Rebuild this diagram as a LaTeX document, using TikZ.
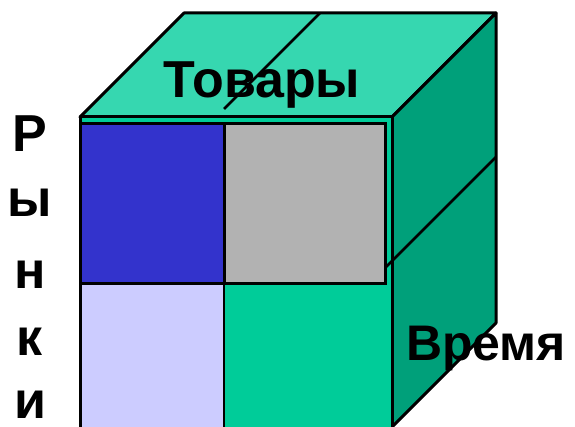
\documentclass[tikz,border=0pt]{standalone}
\usepackage{fontspec}
\setmainfont{Liberation Sans}
\definecolor{topgreen}{HTML}{36D7B0}
\definecolor{sidegreen}{HTML}{00A07A}
\definecolor{frontgreen}{HTML}{00CC99}
\definecolor{cellblue}{HTML}{3333CC}
\definecolor{cellgray}{HTML}{B2B2B2}
\definecolor{celllilac}{HTML}{CCCCFF}

\begin{document}
\begin{tikzpicture}[
  x=1pt, y=-1pt,
  face/.style={draw, line width=3pt, line join=round},
  cell/.style={draw, line width=3pt},
  divider/.style={line width=2.5pt},
  bigtext/.style={font=\fontsize{52}{60}\selectfont\bfseries, anchor=base, inner sep=0pt, text depth=0pt}
]
\useasboundingbox (0,0) rectangle (575,427);
\clip (0,0) rectangle (575,427);

\draw[face, fill=topgreen] (80,117) -- (184,13) -- (496,13) -- (392,117) -- cycle;
\draw[face, fill=sidegreen] (392,117) -- (496,13) -- (496,323) -- (392,427) -- cycle;
\draw[face, fill=frontgreen] (80,117) rectangle (392,440);

\draw[cell, fill=cellblue] (80,124) rectangle (224,284);
\draw[cell, line width=2pt, fill=celllilac] (80,284) rectangle (224,440);
\draw[cell, fill=cellgray] (224,124) rectangle (385,284);
\draw[face] (80,117) -- (80,440);

\node[bigtext] (goods) at (262,98) {Товары};
\node[bigtext, font=\fontsize{50}{60}\selectfont\bfseries] (time) at (486,360) {Время};

\foreach \y/\ch [count=\i] in {152/Р, 217/ы, 289/н, 355/к, 418/и}
  \node[bigtext] (market\i) at (30,\y) {\ch};

\coordinate (topback) at (320,13);
\coordinate (topfront) at (224,109);
\coordinate (sideback) at (496,157);
\coordinate (sidefront) at (385,268);
\draw[divider] (topback) -- (topfront);
\draw[divider] (sideback) -- (sidefront);
\end{tikzpicture}
\end{document}
